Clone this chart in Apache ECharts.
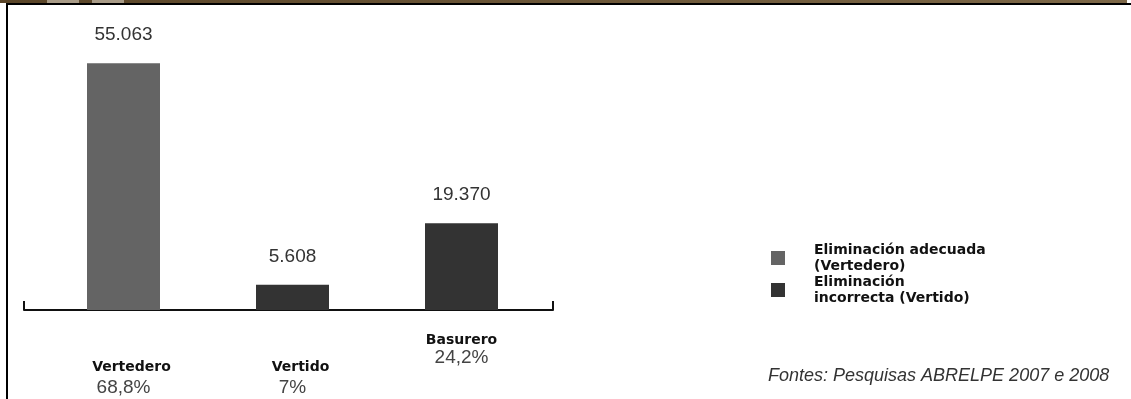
<!DOCTYPE html>
<html>
<head>
<meta charset="utf-8">
<title>Disposición final de residuos</title>
<script src="https://cdn.jsdelivr.net/npm/echarts@6/dist/echarts.min.js"></script>
<style>
  html, body { margin: 0; padding: 0; background: #fff; }
  #chart { width: 1131px; height: 399px; }
</style>
</head>
<body>
<div id="chart"></div>
<script>
// Destination of collected waste (tonnes/day) and its share of the total
const categories = ['Vertedero', 'Vertido', 'Basurero'];
const values = [55063, 5608, 19370];
const shares = ['68,8%', '7%', '24,2%'];
// 0 = proper disposal, 1 = improper disposal
const disposalGroup = [0, 1, 1];
const groupNames = ['Eliminación adecuada (Vertedero)', 'Eliminación incorrecta (Vertido)'];
const groupLegendText = ['Eliminación adecuada\n(Vertedero)', 'Eliminación\nincorrecta (Vertido)'];
const groupColors = ['#646464', '#333333'];
const sourceNote = 'Fontes: Pesquisas ABRELPE 2007 e 2008';

const fmtThousands = v => String(v).replace(/\B(?=(\d{3})+(?!\d))/g, '.');

const chart = echarts.init(document.getElementById('chart'), null, { renderer: 'canvas' });

const series = groupNames.map((name, g) => ({
  name,
  type: 'bar',
  stack: 'disposal',
  xAxisIndex: 0,
  yAxisIndex: 0,
  barWidth: 73,
  itemStyle: { color: groupColors[g] },
  label: {
    show: true,
    position: 'top',
    distance: 19,
    fontFamily: '"Liberation Sans", Arial, sans-serif',
    fontSize: 19,
    color: '#333',
    formatter: p => fmtThousands(p.value)
  },
  data: values.map((v, i) => (disposalGroup[i] === g ? v : '-'))
}));

chart.setOption({
  animation: false,
  backgroundColor: '#fff',
  title: {
    text: sourceNote,
    left: 768,
    top: 367,
    padding: 0,
    textStyle: {
      fontFamily: '"Liberation Sans", Arial, sans-serif',
      fontStyle: 'italic',
      fontWeight: 'normal',
      fontSize: 18,
      color: '#333'
    }
  },
  legend: {
    orient: 'vertical',
    left: 771,
    top: 242,
    padding: 0,
    itemWidth: 14,
    itemHeight: 14,
    itemGap: 0,
    icon: 'rect',
    selectedMode: false,
    formatter: name => groupLegendText[groupNames.indexOf(name)],
    textStyle: {
      fontFamily: '"DejaVu Sans", Verdana, sans-serif',
      fontWeight: 'bold',
      fontSize: 14,
      lineHeight: 16,
      color: '#111',
      padding: [0, 0, 0, 24]
    },
    data: groupNames
  },
  grid: [
    { left: 39, right: 585, top: 41, bottom: 89 },
    { left: 24, right: 578, top: 41, bottom: 89 }
  ],
  xAxis: [
    {
      type: 'category',
      gridIndex: 0,
      data: categories,
      boundaryGap: true,
      axisLine: { show: false },
      axisTick: { show: false },
      axisLabel: {
        interval: 0,
        margin: 21,
        verticalAlign: 'top',
        formatter: (value, index) => index === 2
          ? '{nb|' + value + '}\n{pb|' + shares[index] + '}'
          : '{g| }\n{n|' + value + '}\n{p|' + shares[index] + '}',
        rich: {
          g: { lineHeight: 27, fontSize: 10 },
          n: {
            fontFamily: '"DejaVu Sans", Verdana, sans-serif',
            fontWeight: 'bold', fontSize: 14, lineHeight: 18, color: '#111',
            padding: [0, 0, 0, 16]
          },
          p: {
            fontFamily: '"Liberation Sans", Arial, sans-serif',
            fontSize: 19, lineHeight: 24, color: '#444'
          },
          nb: {
            fontFamily: '"DejaVu Sans", Verdana, sans-serif',
            fontWeight: 'bold', fontSize: 14, lineHeight: 18, color: '#111'
          },
          pb: {
            fontFamily: '"Liberation Sans", Arial, sans-serif',
            fontSize: 19, lineHeight: 18, color: '#444'
          }
        }
      }
    },
    {
      // baseline with raised end ticks
      type: 'category',
      gridIndex: 1,
      data: [''],
      boundaryGap: true,
      axisLine: { show: true, lineStyle: { color: '#111', width: 2 } },
      axisTick: { show: true, inside: true, length: 9, lineStyle: { color: '#111', width: 2 } },
      axisLabel: { show: false }
    }
  ],
  yAxis: [
    { type: 'value', gridIndex: 0, min: 0, max: 60000, show: false, splitLine: { show: false } },
    { type: 'value', gridIndex: 1, min: 0, max: 60000, show: false, splitLine: { show: false } }
  ],
  series,
  graphic: [
    // page header strip and frame
    {
      type: 'rect', silent: true, z: 10,
      shape: { x: 0, y: 0, width: 1127, height: 3 },
      style: {
        fill: new echarts.graphic.LinearGradient(0, 0, 1, 0, [
          { offset: 0, color: '#5a4528' },
          { offset: 1, color: '#7d6848' }
        ])
      }
    },
    { type: 'rect', silent: true, z: 11, shape: { x: 47, y: 0, width: 32, height: 3 }, style: { fill: '#a99c88' } },
    { type: 'rect', silent: true, z: 11, shape: { x: 92, y: 0, width: 32, height: 3 }, style: { fill: '#a99c88' } },
    { type: 'rect', silent: true, z: 10, shape: { x: 6, y: 3, width: 1125, height: 2 }, style: { fill: '#000' } },
    { type: 'rect', silent: true, z: 10, shape: { x: 6, y: 3, width: 2, height: 396 }, style: { fill: '#000' } }
  ]
});
</script>
</body>
</html>
